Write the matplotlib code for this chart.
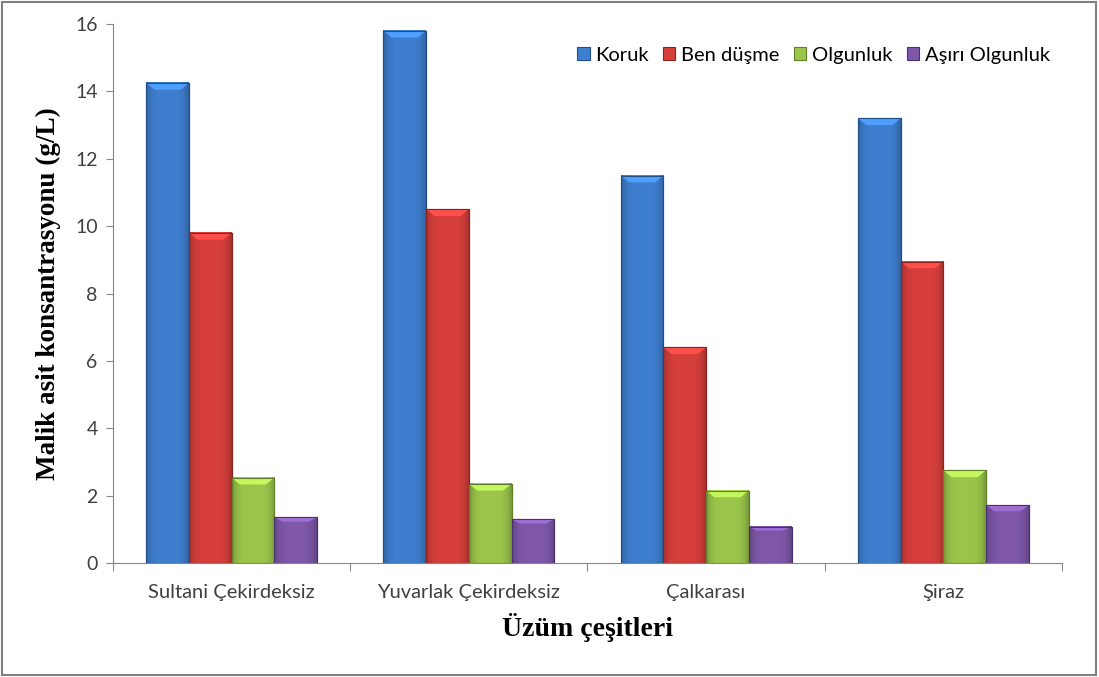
import numpy as np
import matplotlib
matplotlib.use("Agg")
import matplotlib.pyplot as plt
from matplotlib.patches import Rectangle
from matplotlib.colors import to_rgb

# data
cesitler = ['Sultani Çekirdeksiz', 'Yuvarlak Çekirdeksiz', 'Çalkarası', 'Şiraz']
donemler = ['Koruk', 'Ben düşme', 'Olgunluk', 'Aşırı Olgunluk']
koruk = [14.25, 15.8, 11.5, 13.2]
ben_dusme = [9.8, 10.5, 6.4, 8.95]
olgunluk = [2.53, 2.35, 2.15, 2.75]
asiri = [1.36, 1.30, 1.07, 1.71]
yticks = [0, 2, 4, 6, 8, 10, 12, 14, 16]

renk = ['#3f7fcf', '#d63f3c', '#9bc64b', '#7f58aa']
kenar = ['#1f4f85', '#8a2220', '#5f7f28', '#4c3170']

fig = plt.figure(figsize=(10.99, 6.77), dpi=100)
ax = fig.add_axes([0.1028, 0.1684, 0.8635, 0.7961])

x = np.arange(len(cesitler))
w = 0.18
seriler = [koruk, ben_dusme, olgunluk, asiri]

# horizontal shading profile: darker at the sides
prof = np.linspace(-1, 1, 40)
shade = 1.0 - 0.22 * prof ** 4

for i, vals in enumerate(seriler):
    bars = ax.bar(x + (i - 1.5) * w, vals, w, color=renk[i],
                  edgecolor=kenar[i], linewidth=0.8, label=donemler[i],
                  zorder=3)
    base = np.array(to_rgb(renk[i]))
    img = np.clip(base[None, None, :] * shade[None, :, None], 0, 1)
    for b in bars:
        x0, x1 = b.get_x(), b.get_x() + b.get_width()
        ax.imshow(img, extent=[x0, x1, 0, b.get_height()], aspect='auto',
                  zorder=3.5, interpolation='bilinear')
        # lighter bevel at the top
        cap = min(0.2, b.get_height() * 0.1)
        ax.fill([x0, x1, x1 - 0.035, x0 + 0.035],
                [b.get_height(), b.get_height(), b.get_height() - cap,
                 b.get_height() - cap],
                color=tuple(np.clip(base * 1.25, 0, 1)), zorder=3.6, lw=0)
        ax.add_patch(Rectangle((x0, 0), x1 - x0, b.get_height(), fill=False,
                               edgecolor=kenar[i], linewidth=0.8, zorder=3.7))

ax.set_xlim(-0.5, 3.5)
ax.set_ylim(0, 16)
ax.set_yticks(yticks)
ax.tick_params(axis='y', length=5, color='#868686', labelsize=14,
               labelcolor='#404040', pad=6)
for t in ax.get_yticklabels():
    t.set_family('Lato')

# category boundaries as ticks, names at centres
ax.set_xticks(np.arange(-0.5, 4.0, 1.0))
ax.set_xticklabels([])
ax.tick_params(axis='x', which='major', length=6, color='#868686')
ax.set_xticks(x, minor=True)
ax.set_xticklabels(cesitler, minor=True, family='Lato', fontsize=14.5,
                   color='#404040')
ax.tick_params(axis='x', which='minor', length=0, pad=15)

for s in ['top', 'right']:
    ax.spines[s].set_visible(False)
for s in ['left', 'bottom']:
    ax.spines[s].set_color('#868686')
    ax.spines[s].set_zorder(4)

ax.set_ylabel('Malik asit konsantrasyonu (g/L)', family='Liberation Serif',
              fontweight='bold', fontsize=19.5, labelpad=10)
ax.set_xlabel('Üzüm çeşitleri', family='Liberation Serif',
              fontweight='bold', fontsize=20, labelpad=9)

ax.legend(loc='upper right', bbox_to_anchor=(1.0, 0.98), ncol=4,
          frameon=False, prop={'family': 'Lato', 'size': 14.5},
          handlelength=0.6, handleheight=0.6, handletextpad=0.3,
          columnspacing=0.7, borderaxespad=0.2)

fig.patches.append(Rectangle((0.002, 0.003), 0.995, 0.994,
                             transform=fig.transFigure, fill=False,
                             edgecolor='#808080', linewidth=1.5))

fig.savefig('out.png', dpi=100)
